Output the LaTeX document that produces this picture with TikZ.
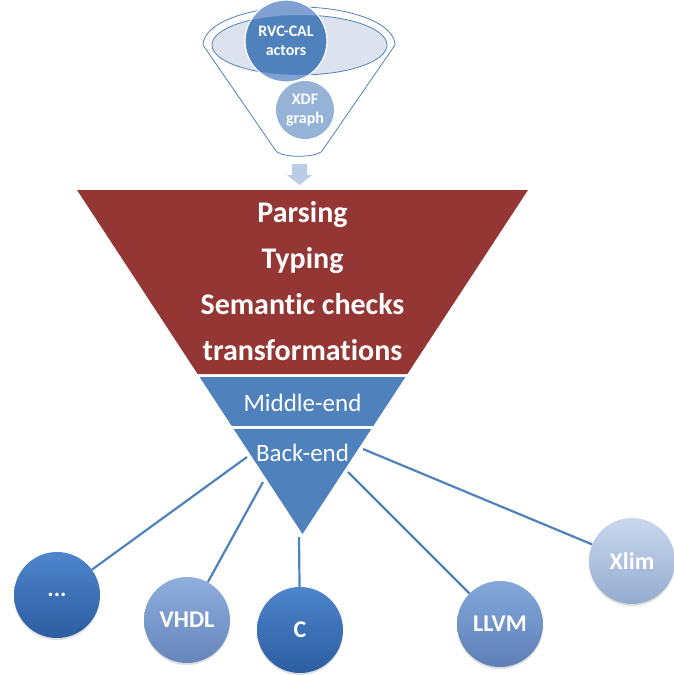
\documentclass[tikz,border=0pt]{standalone}
\usepackage{fontspec}
\setmainfont{Carlito}[Ligatures=NoCommon]
\usepackage{tikz}
\usetikzlibrary{calc,shadows}
\definecolor{cfred}{HTML}{943634}
\definecolor{cfblue}{HTML}{4F81BD}
\definecolor{cfpale}{HTML}{DDE3EE}
\definecolor{cflight}{HTML}{7FA2D2}
\definecolor{cfxdf}{HTML}{95B3D7}
\definecolor{cfarrow}{HTML}{B9CDE5}
\definecolor{darktop}{HTML}{4E85CC}
\definecolor{darkbot}{HTML}{2C5DA0}
\definecolor{midtop}{HTML}{8EAEDD}
\definecolor{midbot}{HTML}{6685BB}
\definecolor{paletop}{HTML}{CAD8EE}
\definecolor{palebot}{HTML}{94ABCF}
\tikzstyle{stagetxt} = [text=white, font=\bfseries\fontsize{30}{36}\selectfont, anchor=base]
\tikzstyle{endtxt} = [text=white, font=\fontsize{25}{30}\selectfont, anchor=base]
\tikzstyle{srctxt} = [text=white, font=\bfseries\fontsize{16}{19}\selectfont, align=center]
\tikzstyle{target} = [circle, minimum size=86pt, inner sep=0pt, text=white, font=\bfseries\fontsize{24}{28}\selectfont, drop shadow={opacity=0.25, shadow xshift=0pt, shadow yshift=-2pt}]
\tikzstyle{link} = [draw=cfblue, line width=2.2pt]

\begin{document}
\begin{tikzpicture}[yscale=-1]
			\useasboundingbox (0pt,0pt) rectangle (673pt,675pt);
			% funnel
			\draw[cfblue, line width=0.8pt, fill=white] (203pt,45pt) -- (276pt,151pt) .. controls (282pt,158pt) and (316pt,158pt) .. (322pt,151pt) -- (395pt,45pt) arc[start angle=0, end angle=-180, x radius=96pt, y radius=38pt];
			\draw[cfblue, line width=0.8pt, fill=cfpale] (299.5pt,45pt) ellipse (87.5pt and 30pt);
			\fill[cfblue] (286pt,41pt) circle (41pt);
			\begin{scope}
				\clip (286pt,41pt) circle (41pt);
				\fill[cflight, even odd rule] (150pt,-20pt) rectangle (450pt,100pt) (299.5pt,45pt) ellipse (87.5pt and 30pt);
			\end{scope}
			\node (rvc) at (286pt,41pt)[circle, minimum size=82pt, draw=white, line width=1.2pt, srctxt]{RVC-CAL\\actors};
			\node (xdf) at (305pt,110pt)[circle, minimum size=58pt, inner sep=0pt, fill=cfxdf, srctxt]{XDF\\graph};
			\fill[cfarrow] (292pt,164pt) -- (307pt,164pt) -- (307pt,175pt) -- (312pt,175pt) -- (299.5pt,185pt) -- (287pt,175pt) -- (292pt,175pt) -- cycle;
			% inverted pyramid
			\coordinate (apex) at (302.5pt,534pt);
			\coordinate (tl) at (77pt,190pt);
			\coordinate (tr) at (528pt,190pt);
			\fill[cfred] (tl) -- (tr) -- ($(apex)!0.4651!(tr)$) -- ($(apex)!0.4651!(tl)$) -- cycle;
			\fill[cfblue] ($(apex)!0.4564!(tl)$) -- ($(apex)!0.4564!(tr)$) -- ($(apex)!0.3140!(tr)$) -- ($(apex)!0.3140!(tl)$) -- cycle;
			\fill[cfblue] ($(apex)!0.3052!(tl)$) -- ($(apex)!0.3052!(tr)$) -- (apex) -- cycle;
			\node (parse) at (302.5pt,222pt)[stagetxt]{Parsing};
			\node (typing) at (302.5pt,268pt)[stagetxt]{Typing};
			\node (checks) at (302.5pt,314pt)[stagetxt]{Semantic checks};
			\node (transf) at (302.5pt,360pt)[stagetxt]{transformations};
			\node (middle) at (302.5pt,411pt)[endtxt]{Middle-end};
			\node (back) at (302.5pt,461pt)[endtxt]{Back-end};
			% targets
			\node (dots) at (57pt,595pt)[target, top color=darktop, bottom color=darkbot]{...};
			\node (vhdl) at (187pt,620pt)[target, top color=midtop, bottom color=midbot]{VHDL};
			\node (c) at (300pt,630pt)[target, top color=darktop, bottom color=darkbot]{C};
			\node (llvm) at (500pt,624pt)[target, top color=midtop!85!darktop, bottom color=midbot!85!darkbot]{LLVM};
			\node (xlim) at (632pt,561pt)[target, top color=paletop, bottom color=palebot]{Xlim};
			\coordinate (s1) at (247pt,457pt);
			\coordinate (s2) at (263pt,482pt);
			\coordinate (s3) at (299pt,537pt);
			\coordinate (s4) at (348pt,472pt);
			\coordinate (s5) at (363pt,449pt);
			\draw[link] (s1) -- (dots);
			\draw[link] (s2) -- (vhdl);
			\draw[link] (s3) -- (c);
			\draw[link] (s4) -- (llvm);
			\draw[link] (s5) -- (xlim);
		\end{tikzpicture}
\end{document}
